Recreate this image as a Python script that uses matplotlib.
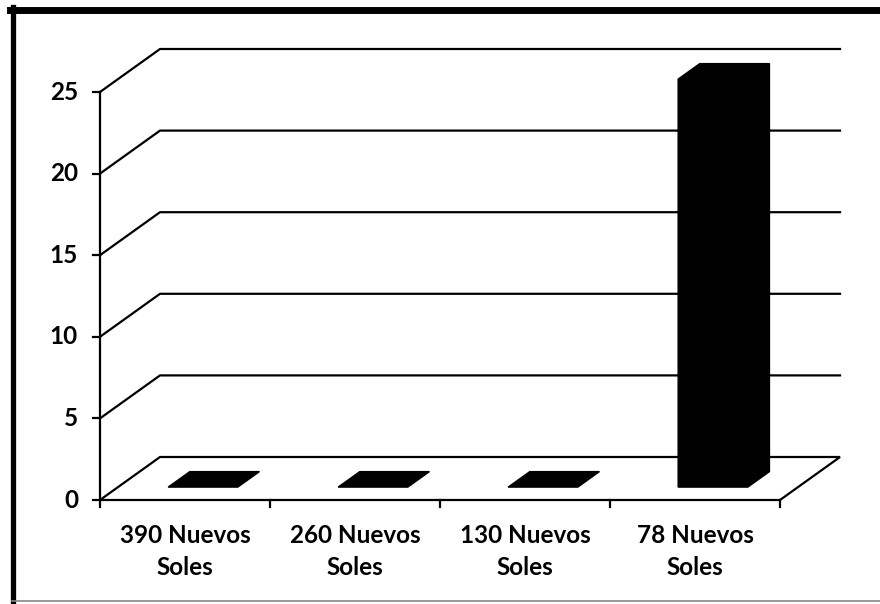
import matplotlib.pyplot as plt
from matplotlib.lines import Line2D
from matplotlib.patches import Polygon

# data
categories = ['390 Nuevos\nSoles', '260 Nuevos\nSoles', '130 Nuevos\nSoles', '78 Nuevos\nSoles']
values = [0, 0, 0, 25]
yticks = [0, 5, 10, 15, 20, 25]

plt.rcParams['font.family'] = ['Lato', 'DejaVu Sans']

# oblique "3D" depth offset, in data units (x: category, y: value)
DX, DY = 0.353, 2.635
PX_X, PX_Y = 170.0, 16.32   # pixels per data unit


def proj(x, y, d):
    return (x + d * DX, y + d * DY)


fig = plt.figure(figsize=(8.8, 6.04), dpi=100)
ax = fig.add_axes([0, 0, 1, 1])
ax.set_xlim(-0.5 - 100 / PX_X, -0.5 + 780 / PX_X)
ax.set_ylim(-104 / PX_Y, 500 / PX_Y)
ax.axis('off')

lw = 1.6
n = len(categories)
xl, xr = -0.5, n - 0.5

# floor
floor = [proj(xl, 0, 0), proj(xr, 0, 0), proj(xr, 0, 1), proj(xl, 0, 1)]
ax.add_patch(Polygon(floor, closed=True, facecolor='white', edgecolor='black', lw=lw))

# gridlines (side wall + back wall)
for v in yticks[1:]:
    pts = [proj(xl, v, 0), proj(xl, v, 1), proj(xr, v, 1)]
    ax.plot([p[0] for p in pts], [p[1] for p in pts], color='black', lw=lw)

# value axis
ax.plot([xl, xl], [0, yticks[-1]], color='black', lw=lw)
for v in yticks:
    ax.plot([xl - 7 / PX_X, xl], [v, v], color='black', lw=lw)
    ax.text(xl - 22 / PX_X, v, str(v), ha='right', va='center',
            fontsize=17.5, fontweight='bold')

# category axis ticks and labels
for i in range(n + 1):
    ax.plot([i - 0.5, i - 0.5], [0, -7 / PX_Y], color='black', lw=lw)
for i, lab in enumerate(categories):
    ax.text(i, -24 / PX_Y, lab, ha='center', va='top', fontsize=17.5,
            fontweight='bold', linespacing=1.45)

# bars
hw, f0, f1 = 0.205, 0.3, 0.66
for i, v in enumerate(values):
    x0, x1 = i - hw, i + hw
    if v == 0:
        pts = [proj(x0, 0, f0), proj(x1, 0, f0), proj(x1, 0, f1), proj(x0, 0, f1)]
    else:
        pts = [proj(x0, 0, f0), proj(x0, v, f0), proj(x0, v, f1),
               proj(x1, v, f1), proj(x1, 0, f1), proj(x1, 0, f0)]
    ax.add_patch(Polygon(pts, closed=True, facecolor='black', edgecolor='black', lw=1, zorder=3))

# outer frame (scanned: thick top/left, faint bottom, cut off at right)
W, H = 880.0, 604.0
fig.lines.append(Line2D([10 / W, 1], [1 - 9.5 / H, 1 - 9.5 / H], transform=fig.transFigure,
                        color='black', lw=5))
fig.lines.append(Line2D([12.5 / W, 12.5 / W], [1 - 7 / H, 1 - 603 / H], transform=fig.transFigure,
                        color='black', lw=3.8))
fig.lines.append(Line2D([12 / W, 1], [1 - 601 / H, 1 - 601 / H], transform=fig.transFigure,
                        color='#888888', lw=1.2))

fig.savefig('out.png', dpi=100)
